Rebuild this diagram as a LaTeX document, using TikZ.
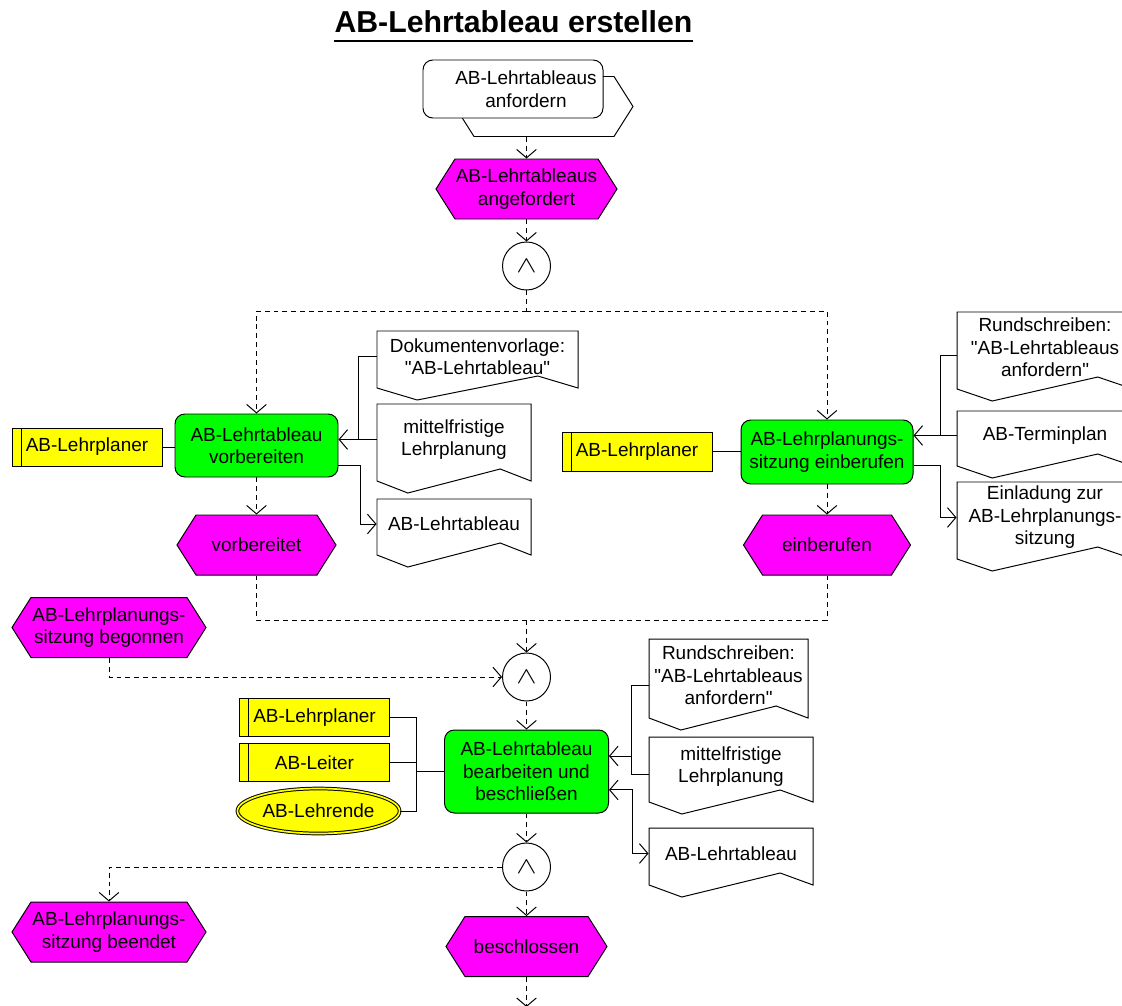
\documentclass[tikz,border=0pt]{standalone}
\usepackage{amssymb}
\usepackage{amsmath}
\usepackage{graphicx}
\usepackage{xcolor}
\usepackage{fontspec}
\setmainfont{Liberation Sans}[Ligatures=TeXOff]
\usepackage{tikz}
\usetikzlibrary{arrows.meta,shapes.geometric,positioning}

\definecolor{evmagenta}{RGB}{255,0,255}
\definecolor{fngreen}{RGB}{0,255,0}
\definecolor{orgyellow}{RGB}{255,255,0}

\def\px{0.025cm}

\newcommand\hexnode[6]{%
  \filldraw[#1] ({#3-#5/2},#4) -- ({#3-#5/2+19},{#4-30}) -- ({#3+#5/2-19},{#4-30})
    -- ({#3+#5/2},#4) -- ({#3+#5/2-19},{#4+30}) -- ({#3-#5/2+19},{#4+30}) -- cycle;
  \node[hextext, minimum width=#5*\px] (#2) at (#3,#4) {#6};
}
\newcommand\docnode[6]{%
  \filldraw[docfill] (#2,#3) -- ({#2+#4},#3) -- ({#2+#4},{#3+#5})
    -- ({#2+0.8*#4},{#3+#5-12}) -- ({#2+0.2*#4},{#3+#5+12}) -- (#2,{#3+#5}) -- cycle;
  \node[doctext, minimum width=#4*\px, minimum height=#5*\px] (#1) at ({#2+#4/2},{#3+#5/2-3}) {#6};
}
\newcommand\andsym{\scalebox{1.5}[1.15]{$\wedge$}}

\begin{document}
\begin{tikzpicture}[x=0.025cm, y=-0.025cm, line width=0.7pt,
    font=\fontsize{13.5}{16}\selectfont,
    >={Straight Barb[length=6pt,width=14pt]},
    evshape/.style={fill=evmagenta, draw},
    ifaceback/.style={fill=white, draw},
    hextext/.style={minimum height=60*\px, inner sep=1pt, align=center},
    docfill/.style={fill=white, draw},
    doctext/.style={inner sep=1pt, align=center},
    func/.style={draw, fill=fngreen, rounded corners=7pt, align=center, inner sep=1pt},
    orgunit/.style={draw, fill=orgyellow, minimum width=150*\px, minimum height=38*\px, inner sep=1pt,
      path picture={\draw ([xshift=0.225cm]path picture bounding box.north west)
        -- ([xshift=0.225cm]path picture bounding box.south west);}},
    andop/.style={circle, draw, fill=white, minimum size=48*\px, inner sep=0pt},
    dashline/.style={dash pattern=on 3.5pt off 2.8pt},
    flow/.style={dashline, ->}]

    \fill[white] (0,0) rectangle (1122,1005);
    \useasboundingbox (0,0) rectangle (1122,1005);

    \node[anchor=base, inner sep=0pt, font=\fontsize{21.5}{26}\selectfont\bfseries] (title) at (513.5,33) {AB-Lehrtableau erstellen};
    \draw[line width=1.8pt] ([yshift=-5.7pt]title.base west) -- ([yshift=-5.7pt]title.base east);

    \hexnode{ifaceback}{pib}{544}{106.5}{178}{}
    \node[draw, fill=white, rounded corners=7pt, minimum width=180*\px, minimum height=58*\px,
        label={[align=center, xshift=13*\px]center:AB-Lehrtableaus\\anfordern}] (pi) at (513,89) {};
    \hexnode{evshape}{ev1}{526.5}{189}{181}{AB-Lehrtableaus\\angefordert}
    \node[andop] (and1) at (526.5,266) {\andsym};
    \coordinate (m1) at (526.5,311);

    \node[func, minimum width=163*\px, minimum height=63*\px] (f1) at (256.5,445.5) {AB-Lehrtableau\\vorbereiten};
    \node[orgunit] (o1) at (87,447) {AB-Lehrplaner};
    \docnode{d1}{377}{331}{201}{57}{Dokumentenvorlage:\\"AB-Lehrtableau"}
    \docnode{d2}{377}{404}{154}{77}{mittelfristige\\Lehrplanung}
    \docnode{d3}{377}{499}{154}{56}{AB-Lehrtableau}
    \hexnode{evshape}{ev2}{256.5}{545}{159}{vorbereitet}

    \node[func, minimum width=172*\px, minimum height=64*\px] (f2) at (827,452) {AB-Lehrplanungs-\\sitzung einberufen};
    \node[orgunit, minimum height=39*\px] (o2) at (637,451.5) {AB-Lehrplaner};
    \docnode{r1}{957}{312}{176}{77}{Rundschreiben:\\"AB-Lehrtableaus\\anfordern"}
    \docnode{r2}{957}{411}{176}{55}{AB-Terminplan}
    \docnode{r3}{957}{482}{176}{77}{Einladung zur\\AB-Lehrplanungs-\\sitzung}
    \hexnode{evshape}{ev3}{827}{545}{167}{einberufen}

    \coordinate (m2) at (526.5,620);
    \hexnode{evshape}{ev4}{109}{627.5}{194}{AB-Lehrplanungs-\\sitzung begonnen}
    \node[andop] (and2) at (526.5,677) {\andsym};
    \node[func, minimum width=164*\px, minimum height=83*\px] (f3) at (526.5,771.5) {AB-Lehrtableau\\bearbeiten und\\beschließen};
    \node[orgunit] (o3) at (314.5,717.5) {AB-Lehrplaner};
    \node[orgunit] (o4) at (314.5,762.5) {AB-Leiter};
    \node[ellipse, draw, fill=orgyellow, double=orgyellow, double distance=1.2pt,
        minimum width=140*\px, minimum height=45*\px, inner sep=1pt] (le) at (318.5,811) {AB-Lehrende};
    \docnode{b1}{649}{639}{159}{79}{Rundschreiben:\\"AB-Lehrtableaus\\anfordern"}
    \docnode{b2}{649}{737}{164}{65}{mittelfristige\\Lehrplanung}
    \docnode{b3}{649}{828}{164}{57}{AB-Lehrtableau}
    \coordinate (jb) at (632,756);
    \node[andop] (and3) at (526.5,867) {\andsym};
    \hexnode{evshape}{ev5}{109}{932}{194}{AB-Lehrplanungs-\\sitzung beendet}
    \hexnode{evshape}{ev6}{526.5}{946.5}{161}{beschlossen}
    \coordinate (out) at (526.5,1007);

    \draw[flow] (ev1.north |- pib.south) -- (ev1.north);
    \draw[flow] (ev1.south) -- (and1.north);
    \draw[dashline] (and1.south) -- (m1);
    \draw[flow] (m1) -| (f1.north);
    \draw[flow] (m1) -| (f2.north);
    \draw[flow] (f1.south) -- (ev2.north);
    \draw[flow] (f2.south) -- (ev3.north);
    \draw[dashline] (ev2.south) |- (m2);
    \draw[dashline] (ev3.south) |- (m2);
    \draw[flow] (m2) -- (and2.north);
    \draw[flow] (ev4.south) |- (and2.west);
    \draw[flow] (and2.south) -- (f3.north);
    \draw[flow] (f3.south) -- (and3.north);
    \draw[flow] (and3.west) -| (ev5.north);
    \draw[flow] (and3.south) -- (ev6.north);
    \draw[flow] (ev6.south) -- (out);

    \draw (o1.east) -- (o1.east -| f1.west);
    \draw (d1.west) -| ([xshift=-0.45cm]d2.west);
    \draw[->] (d2.west) -- (d2.west -| f1.east);
    \draw[->] ([yshift=-0.49cm]f1.east) -| ([xshift=-0.4cm]d3.west) -- (d3.west);

    \draw (o2.east) -- (o2.east -| f2.west);
    \draw ([yshift=-0.21cm]r1.west) -| ([xshift=-0.4cm]r2.west);
    \draw[->] (r2.west) -- (r2.west -| f2.east);
    \draw[->] ([yshift=-0.33cm]f2.east) -| ([xshift=-0.4cm]r3.west) -- (r3.west);

    \draw (o3.east) -| ([xshift=-0.7cm]f3.west) -- (f3.west);
    \draw (le.east) -| ([xshift=-0.7cm]f3.west);
    \draw (o4.east) -- ++(26,0);
    \draw ([yshift=-0.24cm]b1.west) -| ([xshift=-0.425cm,yshift=-0.19cm]b2.west) -- ([yshift=-0.19cm]b2.west);
    \draw[->] (jb) -- (jb -| f3.east);
    \draw[<->] ([yshift=-0.46cm]f3.east) -| (jb |- b3.west) -- (b3.west);
\end{tikzpicture}
\end{document}
